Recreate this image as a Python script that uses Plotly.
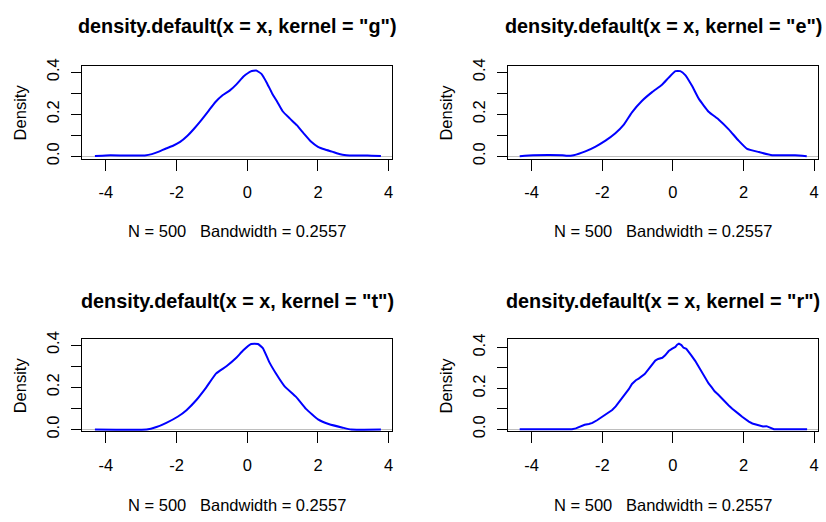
import plotly.graph_objects as go

# ---- data ----
x_g = [-4.31, -4.0, -3.6, -3.2, -2.9, -2.7, -2.5, -2.3, -2.1, -1.9, -1.7, -1.5, -1.3, -1.1, -0.9, -0.7,
       -0.5, -0.3, -0.1, 0.1, 0.25, 0.4, 0.55, 0.7, 0.85, 1.0, 1.2, 1.4, 1.6, 1.8, 2.0, 2.2, 2.4, 2.6,
       2.8, 3.0, 3.4, 3.78]
y_g = [0.001, 0.004, 0.004, 0.003, 0.004, 0.010, 0.022, 0.037, 0.050, 0.068, 0.096, 0.132, 0.172, 0.215,
       0.258, 0.290, 0.312, 0.343, 0.380, 0.404, 0.408, 0.392, 0.350, 0.300, 0.258, 0.214, 0.180, 0.148,
       0.108, 0.070, 0.045, 0.032, 0.022, 0.011, 0.005, 0.003, 0.004, 0.001]

x_e = [-4.34, -3.96, -3.13, -3.0, -2.81, -2.48, -2.19, -1.91, -1.63, -1.39, -1.16, -0.88, -0.59, -0.31,
       -0.12, 0.07, 0.21, 0.35, 0.54, 0.73, 1.01, 1.30, 1.58, 1.86, 2.10, 2.43, 2.81, 3.46, 3.79]
y_e = [0.0, 0.005, 0.005, 0.002, 0.005, 0.023, 0.046, 0.074, 0.109, 0.150, 0.209, 0.263, 0.305, 0.340,
       0.374, 0.405, 0.405, 0.386, 0.335, 0.274, 0.212, 0.174, 0.128, 0.074, 0.035, 0.020, 0.005, 0.005, 0.0]

x_t = [-4.31, -2.85, -2.57, -2.29, -1.96, -1.72, -1.44, -1.16, -0.88, -0.59, -0.31, -0.12, 0.11, 0.30,
       0.44, 0.63, 0.82, 1.05, 1.38, 1.66, 2.0, 2.32, 2.70, 2.94, 3.78]
y_t = [0.0, 0.0, 0.012, 0.032, 0.062, 0.092, 0.140, 0.200, 0.266, 0.300, 0.340, 0.374, 0.405, 0.405,
       0.386, 0.317, 0.263, 0.206, 0.155, 0.098, 0.048, 0.025, 0.009, 0.0, 0.0]

x_r = [-4.34, -2.86, -2.75, -2.62, -2.50, -2.38, -2.28, -2.15, -2.05, -1.96, -1.85, -1.72, -1.62, -1.52,
       -1.43, -1.35, -1.25, -1.16, -1.05, -0.97, -0.88, -0.80, -0.70, -0.59, -0.50, -0.42, -0.30, -0.22,
       -0.12, -0.02, 0.07, 0.12, 0.17, 0.24, 0.30, 0.38, 0.44, 0.52, 0.63, 0.72, 0.82, 0.92, 1.01, 1.10,
       1.18, 1.28, 1.38, 1.48, 1.58, 1.68, 1.77, 1.87, 1.96, 2.05, 2.15, 2.25, 2.35, 2.45, 2.55, 2.65,
       2.72, 2.81, 2.86, 3.80]
y_r = [0.0, 0.0, 0.004, 0.013, 0.022, 0.026, 0.031, 0.044, 0.055, 0.067, 0.078, 0.094, 0.112, 0.134,
       0.152, 0.172, 0.196, 0.222, 0.240, 0.248, 0.258, 0.270, 0.292, 0.314, 0.336, 0.344, 0.350, 0.362,
       0.383, 0.395, 0.403, 0.414, 0.419, 0.412, 0.399, 0.394, 0.382, 0.362, 0.335, 0.308, 0.283, 0.252,
       0.224, 0.205, 0.186, 0.170, 0.151, 0.133, 0.116, 0.100, 0.089, 0.074, 0.061, 0.049, 0.037, 0.028,
       0.022, 0.017, 0.013, 0.015, 0.010, 0.002, 0.0, 0.0]

kernels = ["g", "e", "t", "r"]
series = [(x_g, y_g), (x_e, y_e), (x_t, y_t), (x_r, y_r)]
shapes_line = ["spline", "spline", "spline", "linear"]
subtitle = "N = 500   Bandwidth = 0.2557"
x_ticks = [-4, -2, 0, 2, 4]
x_ticktext = ["-4", "-2", "0", "2", "4"]
y_ticks = [0.0, 0.1, 0.2, 0.3, 0.4]
y_ticktext = ["0.0", "", "0.2", "", "0.4"]

# ---- layout geometry (pixels) ----
W, H = 826, 522
FONT = "Liberation Sans, Arial, sans-serif"
boxes = [(82.3, 392.7, 60, 155), (509, 819.4, 60, 155),
         (82.3, 392.7, 341, 436), (509, 819.4, 341, 436)]
xranges = [[-4.67, 4.10], [-4.66, 4.12], [-4.67, 4.10], [-4.66, 4.12]]
yranges = [[-0.011, 0.428], [-0.011, 0.428], [-0.009, 0.428], [-0.011, 0.441]]

fig = go.Figure()
layout = dict(width=W, height=H, margin=dict(l=0, r=0, t=0, b=0),
              paper_bgcolor="white", plot_bgcolor="white", showlegend=False,
              font=dict(family=FONT, color="black", size=16))
annotations = []

for i, (k, (xs, ys)) in enumerate(zip(kernels, series)):
    n = "" if i == 0 else str(i + 1)
    L, R, T, B = boxes[i]
    fig.add_trace(go.Scatter(x=xs, y=ys, mode="lines", xaxis="x" + n, yaxis="y" + n,
                             line=dict(color="#0000FF", width=2, shape=shapes_line[i],
                                       smoothing=0.4),
                             hoverinfo="skip"))
    layout["xaxis" + n] = dict(domain=[L / W, R / W], range=xranges[i], anchor="y" + n,
                               showgrid=False, zeroline=False, showline=True, mirror=True,
                               linecolor="black", linewidth=1, ticks="outside", ticklen=11,
                               tickcolor="black", tickwidth=1, tickvals=x_ticks,
                               ticktext=x_ticktext, ticklabelstandoff=8,
                               tickfont=dict(size=16.5, family=FONT, color="black"))
    layout["yaxis" + n] = dict(domain=[1 - B / H, 1 - T / H], range=yranges[i], anchor="x" + n,
                               showgrid=False, zeroline=True, zerolinecolor="#BEBEBE",
                               zerolinewidth=1, showline=True, mirror=True,
                               linecolor="black", linewidth=1, ticks="outside", ticklen=10,
                               tickcolor="black", tickwidth=1, tickvals=y_ticks,
                               ticktext=y_ticktext, tickangle=-90, ticklabelstandoff=6,
                               tickfont=dict(size=16.5, family=FONT, color="black"))
    cx = (L + R) / 2
    title_y = 19 if i < 2 else 302
    sub_y = 229.5 if i < 2 else 512
    annotations.append(dict(text="density.default(x = x, kernel = \"%s\")" % k,
                            x=cx / W, y=1 - title_y / H, xref="paper", yref="paper",
                            xanchor="center", yanchor="middle", showarrow=False,
                            font=dict(size=19.8, family=FONT, color="black", weight="bold")))
    annotations.append(dict(text=subtitle, x=cx / W, y=1 - sub_y / H, xref="paper", yref="paper",
                            xanchor="center", yanchor="middle", showarrow=False,
                            font=dict(size=16.5, family=FONT, color="black")))
    annotations.append(dict(text="Density", x=(L - 62.3) / W, y=1 - ((T + B) / 2) / H,
                            xref="paper", yref="paper", xanchor="center", yanchor="middle",
                            textangle=-90, showarrow=False,
                            font=dict(size=16.5, family=FONT, color="black")))

layout["annotations"] = annotations
fig.update_layout(**layout)
fig.write_html("out.html")
